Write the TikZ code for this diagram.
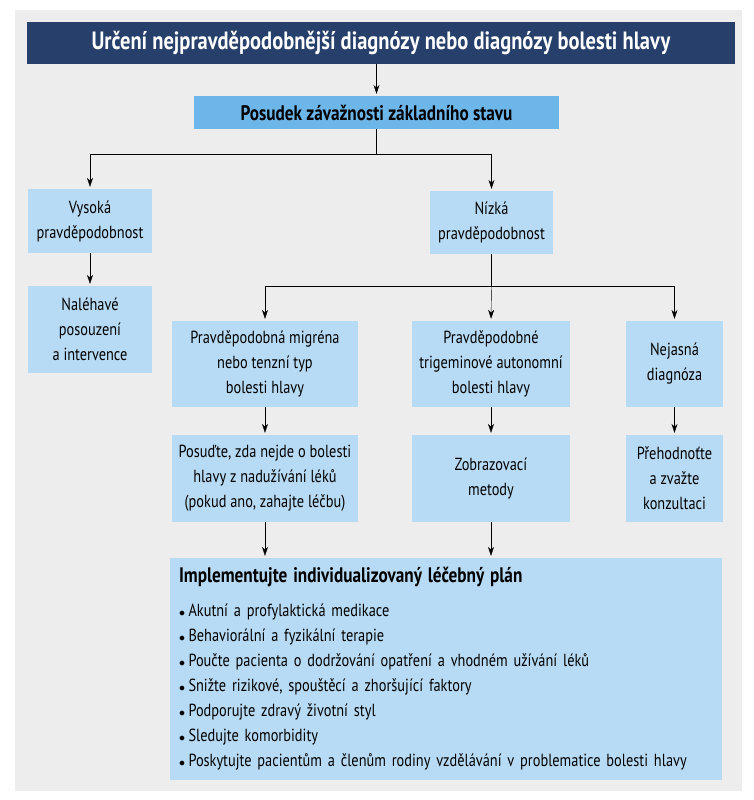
\documentclass[tikz,border=0pt]{standalone}
\usepackage{fontspec}
\setmainfont{PT Sans}[FakeStretch=0.82]
\usetikzlibrary{arrows.meta}

\definecolor{navy}{HTML}{27406B}
\definecolor{midblue}{HTML}{6DB6EA}
\definecolor{paleblue}{HTML}{B8DBF5}
\definecolor{panel}{HTML}{EDEDED}

\newcommand{\itm}{\makebox[9.5pt][l]{$\scriptstyle\bullet$}}

\tikzset{
  box/.style={fill=paleblue, align=center, inner sep=2pt,
    font=\fontsize{17.5}{25}\selectfont},
  arr/.style={-{Stealth[length=9pt,width=6pt]}, shorten >=2pt},
}

\begin{document}
\begin{tikzpicture}[x=1pt, y=-1pt]
                  \useasboundingbox (0,0) rectangle (754,800);
                  \fill[panel] (15,10) rectangle (742,791);

                  \node[fill=navy, text=white, minimum width=708pt, minimum height=42pt,
                    font=\bfseries\fontsize{25}{25}\selectfont] (title) at (381,43)
                    {Určení nejpravděpodobnější diagnózy nebo diagnózy bolesti hlavy};
                  \node[fill=midblue, minimum width=365pt, minimum height=33pt,
                    font=\bfseries\fontsize{21}{25}\selectfont] (posudek) at (376.5,112.5)
                    {Posudek závažnosti základního stavu};

                  \node[box, minimum width=124pt, minimum height=64pt] (vysoka) at (90,221) {Vysoká\\pravděpodobnost};
                  \node[box, minimum width=124pt, minimum height=87pt] (nalehave) at (90,329.5) {Naléhavé\\posouzení\\a intervence};
                  \node[box, minimum width=123pt, minimum height=63pt] (nizka) at (491.5,222.5) {Nízká\\pravděpodobnost};

                  \node[box, minimum width=186pt, minimum height=86pt] (migrena) at (265,364) {Pravděpodobná migréna\\nebo tenzní typ\\bolesti hlavy};
                  \node[box, minimum width=158pt, minimum height=86pt] (trigem) at (491,364) {Pravděpodobné\\trigeminové autonomní\\bolesti hlavy};
                  \node[box, minimum width=97pt, minimum height=86pt] (nejasna) at (674.5,364) {Nejasná\\diagnóza};

                  \node[box, minimum width=186pt, minimum height=87pt] (posudte) at (265,478.5) {Posuďte, zda nejde o bolesti\\hlavy z nadužívání léků\\(pokud ano, zahajte léčbu)};
                  \node[box, minimum width=158pt, minimum height=87pt] (zobraz) at (491,478.5) {Zobrazovací\\metody};
                  \node[box, minimum width=97pt, minimum height=87pt] (prehod) at (674.5,478.5) {Přehodnoťte\\a zvažte\\konzultaci};

                  \node[box, align=left, text width=534pt, minimum height=222pt, inner xsep=9pt, inner ysep=8pt] (plan) at (446,669)
                    {{\bfseries\fontsize{21}{25}\selectfont Implementujte individualizovaný léčebný plán}\\[9pt]
                     \itm Akutní a profylaktická medikace\\
                     \itm Behaviorální a fyzikální terapie\\
                     \itm Poučte pacienta o dodržování opatření a vhodném užívání léků\\
                     \itm Snižte rizikové, spouštěcí a zhoršující faktory\\
                     \itm Podporujte zdravý životní styl\\
                     \itm Sledujte komorbidity\\
                     \itm Poskytujte pacientům a členům rodiny vzdělávání v problematice bolesti hlavy};

                  \draw[arr] (title.south -| posudek.north) -- (posudek.north);
                  \draw (posudek.south) -- ++(0,25) coordinate (split1);
                  \draw[arr] (split1) -| (vysoka.north);
                  \draw[arr] (split1) -| (nizka.north);
                  \draw[arr] (vysoka) -- (nalehave);

                  \draw (nizka.south) -- ++(0,32) coordinate (split2);
                  \draw[arr] (split2) -| (migrena.north);
                  \draw[arr] (split2) -- (trigem.north);
                  \draw[arr] (split2) -| (nejasna.north);

                  \draw[arr] (migrena) -- (posudte);
                  \draw[arr] (trigem) -- (zobraz);
                  \draw[arr] (nejasna) -- (prehod);
                  \draw[arr] (posudte.south) -- (posudte.south |- plan.north);
                  \draw[arr] (zobraz.south) -- (zobraz.south |- plan.north);

              \end{tikzpicture}
\end{document}
